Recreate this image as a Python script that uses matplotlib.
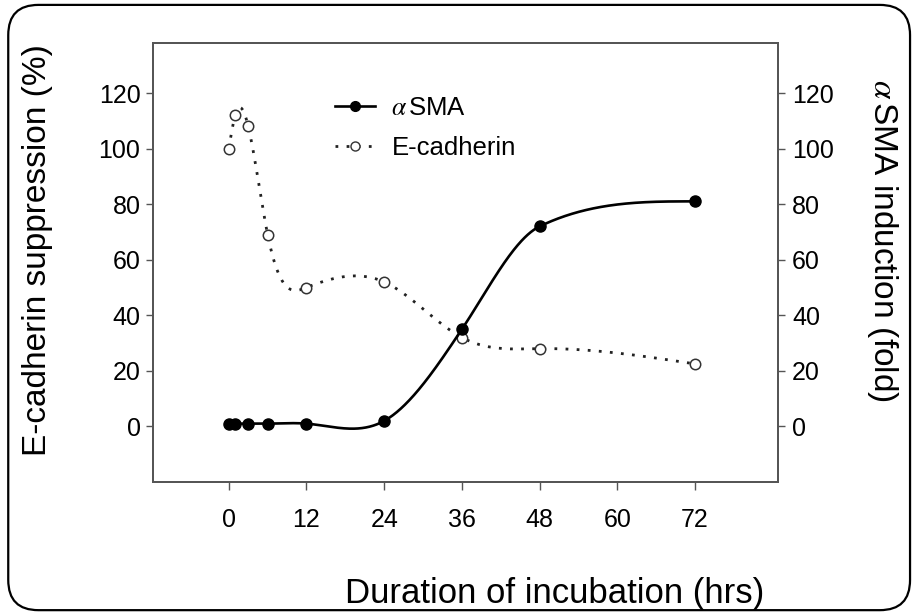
import numpy as np
import matplotlib
matplotlib.use("Agg")
import matplotlib.pyplot as plt
from matplotlib.patches import FancyBboxPatch

# values
hours = [0, 1, 3, 6, 12, 24, 36, 48, 72]
ecad = [100, 112, 108, 69, 50, 52, 32, 28, 22.5]
asma = [1, 1, 1, 1, 1, 2, 35, 72, 81]
xticks = [0, 12, 24, 36, 48, 60, 72]
yticks = [0, 20, 40, 60, 80, 100, 120]


def spline_line(x, y, limit=False, n=600):
    # natural cubic spline slopes at the knots, drawn as hermite pieces;
    # limit=True keeps the steep monotone pieces from overshooting
    x = np.asarray(x, float)
    y = np.asarray(y, float)
    h = np.diff(x)
    nn = len(x)
    A = np.zeros((nn, nn))
    rhs = np.zeros(nn)
    A[0, 0] = 1
    A[-1, -1] = 1
    for i in range(1, nn - 1):
        A[i, i - 1] = h[i - 1]
        A[i, i] = 2 * (h[i - 1] + h[i])
        A[i, i + 1] = h[i]
        rhs[i] = 3 * ((y[i + 1] - y[i]) / h[i] - (y[i] - y[i - 1]) / h[i - 1])
    c = np.linalg.solve(A, rhs)
    delta = np.diff(y) / h
    m = np.empty(nn)
    m[:-1] = delta - h * (2 * c[:-1] + c[1:]) / 3
    m[-1] = delta[-1] + h[-1] * (c[-2] + 2 * c[-1]) / 3
    if limit:
        for k in range(nn - 1):
            if abs(delta[k]) < 0.2:
                continue
            for j in (k, k + 1):
                if m[j] * delta[k] < 0:
                    m[j] = 0
                elif abs(m[j]) > 3 * abs(delta[k]):
                    m[j] = 3 * delta[k]
    xs = np.linspace(x[0], x[-1], n)
    idx = np.clip(np.searchsorted(x, xs) - 1, 0, nn - 2)
    t = (xs - x[idx]) / h[idx]
    h00 = 2 * t ** 3 - 3 * t ** 2 + 1
    h10 = t ** 3 - 2 * t ** 2 + t
    h01 = -2 * t ** 3 + 3 * t ** 2
    h11 = t ** 3 - t ** 2
    ys = (h00 * y[idx] + h10 * h[idx] * m[idx]
          + h01 * y[idx + 1] + h11 * h[idx] * m[idx + 1])
    return xs, ys


plt.rcParams['font.family'] = ['Liberation Sans', 'DejaVu Sans']
plt.rcParams['mathtext.fontset'] = 'stix'

fig = plt.figure(figsize=(9.16, 6.12), dpi=100)
ax = fig.add_axes([153 / 916, 1 - 482 / 612, 625 / 916, 439 / 612])
ax2 = ax.twinx()

# rounded frame around the whole figure
frame = FancyBboxPatch((0.009, 0.003), 0.9845, 0.989,
                       boxstyle="round,pad=0,rounding_size=0.033",
                       mutation_aspect=916 / 612, transform=fig.transFigure,
                       fill=False, edgecolor='black', linewidth=1.6)
fig.patches.append(frame)

xs, ys = spline_line(hours, asma, limit=True)
ax2.plot(xs, ys, color='black', lw=1.9, zorder=3)
ax2.plot(hours, asma, 'o', color='black', ms=8, zorder=4)

xs, ys = spline_line(hours, ecad)
ax.plot(xs, ys, color='#222222', lw=2.0, linestyle=(0, (1, 3)), zorder=3)
ax.plot(hours, ecad, 'o', mfc='white', mec='#333333', mew=1.1, ms=7.5, zorder=4)

# legend handles
ax.plot([], [], color='black', lw=1.9, marker='o', ms=7, label=r'$\alpha\,$SMA')
ax.plot([], [], color='#222222', lw=2.0, linestyle=(0, (1, 3)), marker='o',
        mfc='white', mec='#333333', mew=1.0, ms=6.5, label='E-cadherin')
leg = ax.legend(loc='upper left', bbox_to_anchor=(0.291, 0.88), frameon=False,
                fontsize=18.5, handlelength=1.55, labelspacing=0.62,
                handletextpad=0.65, borderpad=0, borderaxespad=0)

for a in (ax, ax2):
    a.set_xlim(-11.7, 84.8)
    a.set_ylim(-20, 138)
    a.set_yticks(yticks)
    for s in a.spines.values():
        s.set_color('#555555')
        s.set_linewidth(1.3)

ax.set_xticks(xticks)
ax.tick_params(axis='x', direction='out', length=6, width=1, color='#555555',
               labelsize=18, pad=13)
ax.tick_params(axis='y', direction='out', length=5, width=1, color='#555555',
               labelsize=18, pad=4)
ax2.tick_params(axis='y', direction='out', length=5, width=1, color='#555555',
                labelsize=18, pad=5)

ax.set_xlabel('Duration of incubation (hrs)', fontsize=25, va='center')
ax.xaxis.set_label_coords(0.643, -0.253)
ax.set_ylabel('E-cadherin suppression (%)', fontsize=24, va='center')
ax.yaxis.set_label_coords(-0.184, 0.528)
ax2.set_ylabel(r'$\alpha\,$SMA induction (fold)', fontsize=24, rotation=270,
               va='center')
ax2.yaxis.set_label_coords(1.167, 0.55)

fig.savefig('out.png', dpi=100)
